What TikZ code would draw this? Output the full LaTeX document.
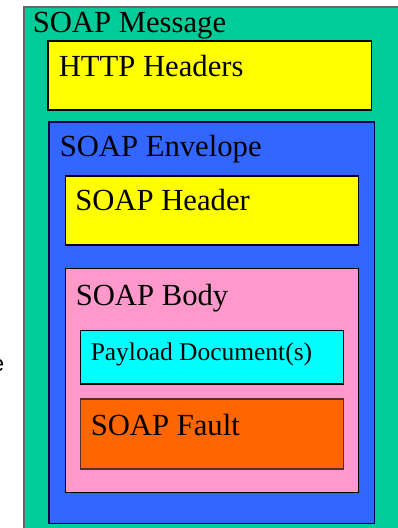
\documentclass[tikz,border=0pt]{standalone}
\usepackage{fontspec}
\setmainfont{Liberation Serif}
\setsansfont{Liberation Sans}
\definecolor{msggreen}{HTML}{00CC99}
\definecolor{envblue}{HTML}{3366FF}
\definecolor{bodypink}{HTML}{FF99CC}
\definecolor{faultorange}{HTML}{FF6600}
\definecolor{hdryellow}{HTML}{FFFF00}
\definecolor{paycyan}{HTML}{00FFFF}
\tikzset{
  box/.style={line width=0.9pt},
  lbl/.style={anchor=base west, inner sep=0pt, font=\fontsize{23}{27}\selectfont},
  smalllbl/.style={anchor=base west, inner sep=0pt, font=\fontsize{19.1}{23}\selectfont}
}
\begin{document}
\begin{tikzpicture}[x=0.75pt, y=-0.75pt]
\useasboundingbox (0,0) rectangle (398,528);
\clip (0,0) rectangle (398,528);
\fill[white] (0,0) rectangle (398,528);
% boxes
\draw[box, fill=msggreen, draw=gray!80!black] (24,7) rectangle (420,545);
\draw[box, fill=hdryellow, draw=black] (48,41) rectangle (371.5,110);
\draw[box, fill=envblue, draw=black!70!blue] (49,122) rectangle (374.5,523.5);
\draw[box, fill=hdryellow, draw=black] (65.5,176) rectangle (358.5,245);
\draw[box, fill=bodypink, draw=black] (65.5,268.5) rectangle (358.5,492.5);
\draw[box, fill=paycyan, draw=black] (80.5,330.5) rectangle (343.5,384);
\draw[box, fill=faultorange, draw=black!60!brown] (80.5,399) rectangle (343.5,469);
% labels
\node[lbl] (tmsg) at (32.5,33) {SOAP Message};
\node[lbl] (thttp) at (58.5,76.5) {HTTP Headers};
\node[lbl] (tenv) at (59.5,156.7) {SOAP Envelope};
\node[lbl] (thdr) at (75,210.7) {SOAP Header};
\node[lbl] (tbody) at (75.5,305) {SOAP Body};
\node[smalllbl] (tpay) at (90.5,360) {Payload Document(s)};
\node[lbl] (tfault) at (90.5,435.7) {SOAP Fault};
\node[anchor=base east, inner sep=0pt, font=\sffamily\fontsize{17}{20}\selectfont] (tfrag) at (4.5,371) {e};
\end{tikzpicture}
\end{document}
